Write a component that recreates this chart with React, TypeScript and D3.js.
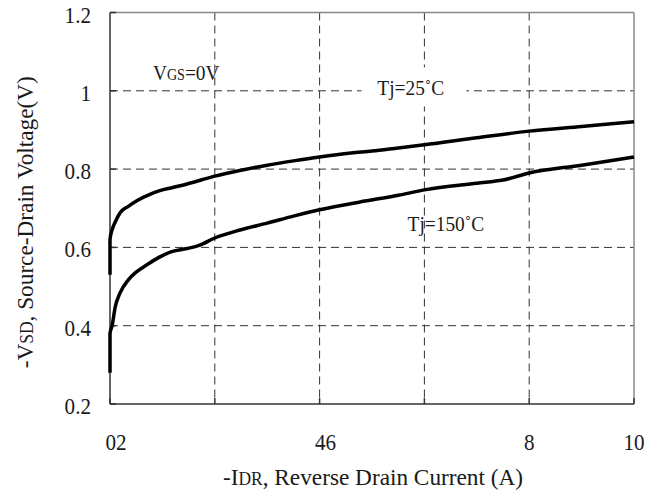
import React, { useEffect } from 'react';
import * as d3 from 'd3';

// -I_DR (A) vs -V_SD (V)
const x25 = [0, 0, 0.04, 0.1, 0.19, 0.35, 0.52, 0.75, 0.95, 1.2, 1.47, 2.0, 2.5, 3.0, 3.5, 4.0, 4.6, 5.0, 5.5, 6.0, 7.0, 8.0, 9.0, 10];
const v25 = [0.53, 0.62, 0.645, 0.665, 0.688, 0.705, 0.72, 0.735, 0.745, 0.753, 0.762, 0.782, 0.797, 0.81, 0.821, 0.831, 0.841, 0.846, 0.854, 0.862, 0.88, 0.897, 0.909, 0.921];
const x150 = [0, 0, 0.04, 0.1, 0.19, 0.35, 0.5, 0.7, 0.9, 1.15, 1.47, 1.7, 2.0, 2.5, 3.0, 3.5, 4.0, 4.77, 5.5, 6.0, 7.0, 7.5, 8.0, 9.0, 10];
const v150 = [0.28, 0.38, 0.4, 0.448, 0.483, 0.517, 0.537, 0.555, 0.572, 0.588, 0.597, 0.605, 0.624, 0.645, 0.662, 0.68, 0.696, 0.716, 0.733, 0.747, 0.764, 0.772, 0.79, 0.81, 0.831];

const xGrid = [0, 2, 4, 6, 8, 10];
const yGrid = [0.2, 0.4, 0.6, 0.8, 1.0, 1.2];
const xLabelAt = [0, 4, 8, 10];
const xLabels = ['02', '46', '8', '10'];
const yLabels = ['0.2', '0.4', '0.6', '0.8', '1', '1.2'];

const W = 656, H = 490;
const FONT = '"Liberation Serif", serif';

function T({ x, y, anchor = 'start', size = 24, sx = 0.88, children }: any) {
  return (
    <text transform={`translate(${x},${y}) scale(${sx},1)`} textAnchor={anchor}
      fontFamily={FONT} fontSize={size} fill="#1a1a1a">{children}</text>
  );
}

export default function App() {
  useEffect(() => { document.body.style.margin = '0'; }, []);

  const x = d3.scaleLinear().domain([0, 10]).range([110, 634]);
  const y = d3.scaleLinear().domain([0.2, 1.2]).range([404, 12.5]);
  const line = d3.line<[number, number]>().x(d => x(d[0])).y(d => y(d[1])).curve(d3.curveMonotoneX);
  const pts = (xs: number[], vs: number[]) => xs.map((v, i) => [v, vs[i]] as [number, number]);

  const [x0, x1] = x.range();
  const [y0, y1] = y.range();

  return (
    <svg width={W} height={H} style={{ display: 'block', background: '#fff' }}>
      {/* grid */}
      {xGrid.slice(1, -1).map(d => (
        <line key={'gx' + d} x1={x(d)} x2={x(d)} y1={y1} y2={y0} stroke="#333" strokeWidth={1} strokeDasharray="8,5" />
      ))}
      {yGrid.slice(1, -1).map(d => (
        <line key={'gy' + d} x1={x0} x2={x1} y1={y(d)} y2={y(d)} stroke="#333" strokeWidth={1} strokeDasharray="8,5" />
      ))}

      {/* frame */}
      <line x1={x0} x2={x1} y1={y1} y2={y1} stroke="#888" strokeWidth={1.5} />
      <line x1={x1} x2={x1} y1={y1} y2={y0} stroke="#888" strokeWidth={1.5} />
      <line x1={x0} x2={x0} y1={y1} y2={y0} stroke="#333" strokeWidth={1.5} />
      <line x1={x0} x2={x1} y1={y0} y2={y0} stroke="#333" strokeWidth={1.5} />
      {xGrid.map(d => (
        <line key={'tx' + d} x1={x(d)} x2={x(d)} y1={y0} y2={y0 - 6} stroke="#333" strokeWidth={1.5} />
      ))}
      {yGrid.map(d => (
        <line key={'ty' + d} x1={x0} x2={x0 + 6} y1={y(d)} y2={y(d)} stroke="#333" strokeWidth={1.5} />
      ))}

      {/* tick labels */}
      {yGrid.map((d, i) => (
        <T key={'ly' + d} x={91} y={y(d) + 10} anchor="end">{yLabels[i]}</T>
      ))}
      {xLabelAt.map((d, i) => (
        <T key={'lx' + d} x={x(d) + (i < 2 ? 6 : 0)} y={450} anchor="middle">{xLabels[i]}</T>
      ))}

      {/* curves */}
      <path d={line(pts(x25, v25)) || ''} fill="none" stroke="#000" strokeWidth={3.5} strokeLinejoin="round" />
      <path d={line(pts(x150, v150)) || ''} fill="none" stroke="#000" strokeWidth={3.5} strokeLinejoin="round" />

      {/* annotations */}
      <T x={x(0.82)} y={y(1.028)} size={22}>V<tspan fontSize={16}>GS</tspan>=0V</T>
      <rect x={x(4.8)} y={y(1.06)} width={x(6.8) - x(4.8)} height={y(0.96) - y(1.06)} fill="#fff" />
      <T x={x(5.74)} y={y(0.989)} size={22} anchor="middle">Tj=25˚C</T>
      <T x={x(6.41)} y={y(0.642)} size={22} anchor="middle">Tj=150˚C</T>

      {/* axis titles */}
      <T x={373} y={485} size={24} sx={0.97} anchor="middle">-I<tspan fontSize={18}>DR</tspan>, Reverse Drain Current (A)</T>
      <g transform={`translate(33,${(y0 + y1) / 2 + 14}) rotate(-90)`}>
        <T x={0} y={0} size={24} sx={0.97} anchor="middle">-V<tspan fontSize={18}>SD</tspan>, Source-Drain Voltage(V)</T>
      </g>
    </svg>
  );
}
